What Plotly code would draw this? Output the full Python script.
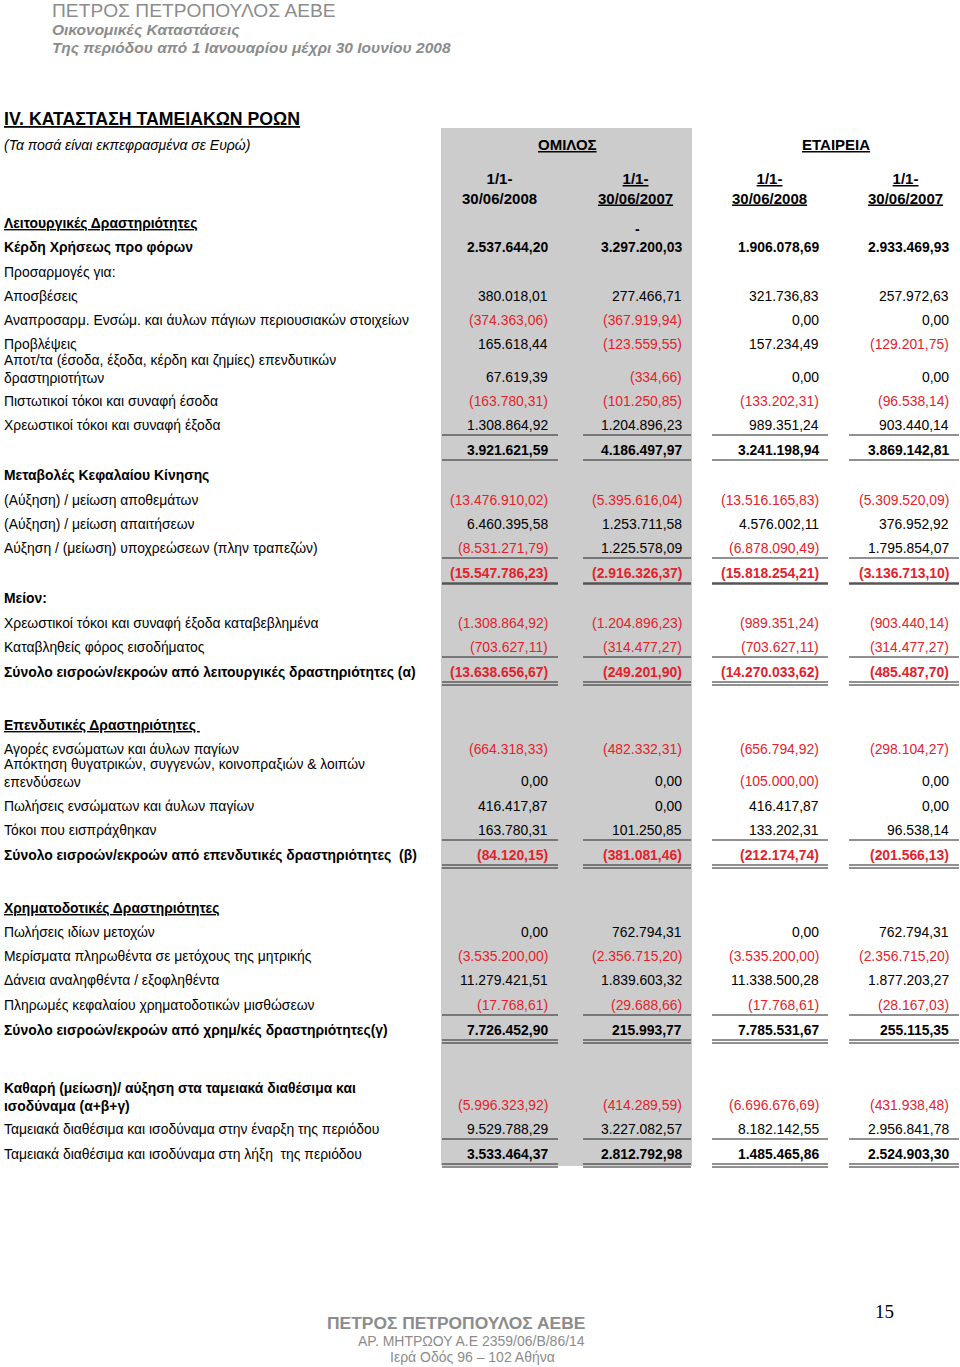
import plotly.graph_objects as go

# cash flow statement rows (values in euro, None = no value on that row)
row_labels = [
    "Λειτουργικές Δραστηριότητες",
    "Κέρδη Χρήσεως προ φόρων",
    "Προσαρμογές για:",
    "Αποσβέσεις",
    "Αναπροσαρμ. Ενσώμ. και άυλων πάγιων περιουσιακών στοιχείων",
    "Προβλέψεις",
    "Αποτ/τα (έσοδα, έξοδα, κέρδη και ζημίες) επενδυτικών<br>δραστηριοτήτων",
    "Πιστωτικοί τόκοι και συναφή έσοδα",
    "Χρεωστικοί τόκοι και συναφή έξοδα",
    "",
    "Μεταβολές Κεφαλαίου Κίνησης",
    "(Αύξηση) / μείωση αποθεμάτων",
    "(Αύξηση) / μείωση απαιτήσεων",
    "Αύξηση / (μείωση) υποχρεώσεων (πλην τραπεζών)",
    "",
    "Μείον:",
    "Χρεωστικοί τόκοι και συναφή έξοδα καταβεβλημένα",
    "Καταβληθείς φόρος εισοδήματος",
    "Σύνολο εισροών/εκροών από λειτουργικές δραστηριότητες (α)",
    "Επενδυτικές Δραστηριότητες ",
    "Αγορές ενσώματων και άυλων παγίων",
    "Απόκτηση θυγατρικών, συγγενών, κοινοπραξιών & λοιπών<br>επενδύσεων",
    "Πωλήσεις ενσώματων και άυλων παγίων",
    "Τόκοι που εισπράχθηκαν",
    "Σύνολο εισροών/εκροών από επενδυτικές δραστηριότητες  (β)",
    "Χρηματοδοτικές Δραστηριότητες",
    "Πωλήσεις ιδίων μετοχών",
    "Μερίσματα πληρωθέντα σε μετόχους της μητρικής",
    "Δάνεια αναληφθέντα / εξοφληθέντα",
    "Πληρωμές κεφαλαίου χρηματοδοτικών μισθώσεων",
    "Σύνολο εισροών/εκροών από χρημ/κές δραστηριότητες(γ)",
    "Καθαρή (μείωση)/ αύξηση στα ταμειακά διαθέσιμα και<br>ισοδύναμα (α+β+γ)",
    "Ταμειακά διαθέσιμα και ισοδύναμα στην έναρξη της περιόδου",
    "Ταμειακά διαθέσιμα και ισοδύναμα στη λήξη  της περιόδου",
]

omilos_2008 = [None, 2537644.20, None, 380018.01, -374363.06, 165618.44, 67619.39,
               -163780.31, 1308864.92, 3921621.59, None, -13476910.02, 6460395.58,
               -8531271.79, -15547786.23, None, -1308864.92, -703627.11, -13638656.67,
               None, -664318.33, 0.00, 416417.87, 163780.31, -84120.15,
               None, 0.00, -3535200.00, 11279421.51, -17768.61, 7726452.90,
               -5996323.92, 9529788.29, 3533464.37]
omilos_2007 = [None, 3297200.03, None, 277466.71, -367919.94, -123559.55, -334.66,
               -101250.85, 1204896.23, 4186497.97, None, -5395616.04, 1253711.58,
               1225578.09, -2916326.37, None, -1204896.23, -314477.27, -249201.90,
               None, -482332.31, 0.00, 0.00, 101250.85, -381081.46,
               None, 762794.31, -2356715.20, 1839603.32, -29688.66, 215993.77,
               -414289.59, 3227082.57, 2812792.98]
etaireia_2008 = [None, 1906078.69, None, 321736.83, 0.00, 157234.49, 0.00,
                 -133202.31, 989351.24, 3241198.94, None, -13516165.83, 4576002.11,
                 -6878090.49, -15818254.21, None, -989351.24, -703627.11, -14270033.62,
                 None, -656794.92, -105000.00, 416417.87, 133202.31, -212174.74,
                 None, 0.00, -3535200.00, 11338500.28, -17768.61, 7785531.67,
                 -6696676.69, 8182142.55, 1485465.86]
etaireia_2007 = [None, 2933469.93, None, 257972.63, 0.00, -129201.75, 0.00,
                 -96538.14, 903440.14, 3869142.81, None, -5309520.09, 376952.92,
                 1795854.07, -3136713.10, None, -903440.14, -314477.27, -485487.70,
                 None, -298104.27, 0.00, 0.00, 96538.14, -201566.13,
                 None, 762794.31, -2356715.20, 1877203.27, -28167.03, 255115.35,
                 -431938.48, 2956841.78, 2524903.30]

col_groups = ["ΟΜΙΛΟΣ", "ΕΤΑΙΡΕΙΑ"]
col_periods = ["1/1-<br>30/06/2008", "1/1-<br>30/06/2007", "1/1-<br>30/06/2008", "1/1-<br>30/06/2007"]

# layout of the page (pixel coordinates on a 960 x 1367 sheet)
row_y = [223, 247, 272, 296, 320, 344, 377, 401, 425, 450, 475, 500, 524, 548, 573,
         598, 623, 647, 672, 725, 749, 781, 806, 830, 855, 908, 932, 956, 980, 1005,
         1030, 1105, 1129, 1154]
label_style = {0: "bu", 1: "b", 10: "b", 15: "b", 18: "b", 19: "bu", 24: "b", 25: "bu",
               30: "b", 31: "b"}
bold_values = {1, 9, 14, 18, 24, 30, 33}
line_below = {8: "single", 9: "single", 13: "single", 14: "thick", 17: "single",
              18: "double", 23: "single", 24: "double", 29: "single", 30: "double",
              32: "single", 33: "double"}

col_right = [548, 682, 819, 949]
col_line = [(442, 558), (583, 691), (712, 828), (849, 959)]
col_center = [499, 635, 769, 905]

FONT = "Liberation Sans, Arial, sans-serif"
RED = "#e3222b"
GREY = "#8c8c8c"


def fmt(v):
    s = f"{abs(v):,.2f}".replace(",", "X").replace(".", ",").replace("X", ".")
    return f"({s})" if v < 0 else s


fig = go.Figure()
fig.add_trace(go.Scatter(x=[500], y=[500], mode="markers", marker=dict(opacity=0),
                         hoverinfo="skip", showlegend=False))

ann = []
shapes = []


def text(x, y, s, size=13.9, color="black", xanchor="left", family=FONT):
    ann.append(dict(x=x, y=y, xref="x", yref="y", text=s, showarrow=False,
                    xanchor=xanchor, yanchor="middle", borderpad=0, borderwidth=0,
                    align=xanchor,
                    font=dict(family=family, size=size, color=color)))


def hline(x0, x1, y, width=1, color="#222"):
    shapes.append(dict(type="line", xref="x", yref="y", x0=x0, x1=x1, y0=y, y1=y,
                       line=dict(color=color, width=width)))


# grey band behind the group columns
shapes.append(dict(type="rect", xref="x", yref="y", x0=441, x1=692, y0=128, y1=1166,
                   fillcolor="#cccccc", line=dict(width=0), layer="below"))

# page header
text(52, 10, "ΠΕΤΡΟΣ ΠΕΤΡΟΠΟΥΛΟΣ ΑΕΒΕ", size=19.2, color=GREY)
text(52, 29, "<b><i>Οικονομικές Καταστάσεις</i></b>", size=15.5, color=GREY)
text(52, 47, "<b><i>Της περιόδου από 1 Ιανουαρίου μέχρι 30 Ιουνίου 2008</i></b>", size=15.5, color=GREY)

text(4, 119, "<b><u>IV. ΚΑΤΑΣΤΑΣΗ ΤΑΜΕΙΑΚΩΝ ΡΟΩΝ</u></b>", size=17.7)
text(4, 145, "<i>(Τα ποσά είναι εκπεφρασμένα σε Ευρώ)</i>", size=14)

# column headers
text(567, 144, f"<b><u>{col_groups[0]}</u></b>", size=15, xanchor="center")
text(836, 144, f"<b><u>{col_groups[1]}</u></b>", size=15, xanchor="center")
for i, p in enumerate(col_periods):
    s = f"<b>{p}</b>" if i == 0 else "<b>" + "<br>".join(f"<u>{t}</u>" for t in p.split("<br>")) + "</b>"
    text(col_center[i], 188, s, size=15, xanchor="center")

text(637, 229, "<b>-</b>", size=13.9, xanchor="center")

# rows
cols = [omilos_2008, omilos_2007, etaireia_2008, etaireia_2007]
for r, lab in enumerate(row_labels):
    y = row_y[r]
    if lab:
        st = label_style.get(r, "")
        s = lab
        if "u" in st:
            s = f"<u>{s}</u>"
        if "b" in st:
            s = f"<b>{s}</b>"
        ly = y - 8.5 if "<br>" in lab else y
        text(4, ly, s)
    for c in range(4):
        v = cols[c][r]
        if v is None:
            continue
        s = fmt(v)
        if r in bold_values:
            s = f"<b>{s}</b>"
        text(col_right[c], y, s, color=RED if v < 0 else "black", xanchor="right")
    kind = line_below.get(r)
    if kind:
        for x0, x1 in col_line:
            if kind == "single":
                hline(x0, x1, y + 10)
            elif kind == "thick":
                hline(x0, x1, y + 10.5, width=2.5, color="#555")
            else:
                hline(x0, x1, y + 10)
                hline(x0, x1, y + 13)

# footer
text(456, 1323, "<b>ΠΕΤΡΟΣ ΠΕΤΡΟΠΟΥΛΟΣ ΑΕΒΕ</b>", size=17.4, color=GREY, xanchor="center")
text(471, 1341, "ΑΡ. ΜΗΤΡΩΟΥ Α.Ε 2359/06/Β/86/14", size=14, color=GREY, xanchor="center")
text(472, 1357, "Ιερά Οδός 96 – 102 Αθήνα", size=14, color=GREY, xanchor="center")
text(884, 1311, "15", size=19, xanchor="center", family="Liberation Serif, Times New Roman, serif")

fig.update_layout(
    width=960, height=1367,
    margin=dict(l=0, r=0, t=0, b=0),
    paper_bgcolor="white", plot_bgcolor="white",
    xaxis=dict(range=[0, 960], visible=False, fixedrange=True),
    yaxis=dict(range=[1367, 0], visible=False, fixedrange=True),
    annotations=ann, shapes=shapes,
    showlegend=False,
)

# drop the default body margin so the sheet sits at the page corner
fig.write_html("out.html", config={"displayModeBar": False},
               post_script="document.body.style.margin='0';document.body.style.overflow='hidden';")
